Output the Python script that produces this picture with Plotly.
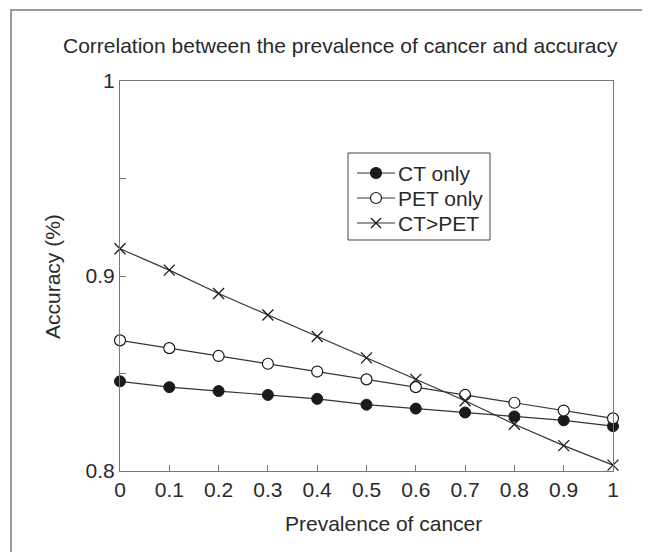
import plotly.graph_objects as go

prevalence = [0, 0.1, 0.2, 0.3, 0.4, 0.5, 0.6, 0.7, 0.8, 0.9, 1.0]
ct_only = [0.846, 0.843, 0.841, 0.839, 0.837, 0.834, 0.832, 0.830, 0.828, 0.826, 0.823]
pet_only = [0.867, 0.863, 0.859, 0.855, 0.851, 0.847, 0.843, 0.839, 0.835, 0.831, 0.827]
ct_pet = [0.914, 0.903, 0.891, 0.880, 0.869, 0.858, 0.847, 0.836, 0.824, 0.813, 0.803]
series_names = ["CT only", "PET only", "CT>PET"]

x_ticks = [0, 0.1, 0.2, 0.3, 0.4, 0.5, 0.6, 0.7, 0.8, 0.9, 1.0]
x_labels = ["0", "0.1", "0.2", "0.3", "0.4", "0.5", "0.6", "0.7", "0.8", "0.9", "1"]
y_ticks = [0.8, 0.85, 0.9, 0.95, 1.0]
y_labels = ["0.8", "", "0.9", "", "1"]

FONT = "Liberation Sans, Arial, Helvetica, sans-serif"
INK = "#2a2a2a"
LINE = "#333333"
MK = "#1a1a1a"

fig = go.Figure()
fig.add_trace(go.Scatter(
    x=prevalence, y=ct_only, name=series_names[0], mode="lines+markers",
    line=dict(color=LINE, width=1.2),
    marker=dict(symbol="circle", size=11, color=MK, line=dict(color=MK, width=1)),
    cliponaxis=False))
fig.add_trace(go.Scatter(
    x=prevalence, y=pet_only, name=series_names[1], mode="lines+markers",
    line=dict(color=LINE, width=1.2),
    marker=dict(symbol="circle", size=11, color="white", line=dict(color=MK, width=1.2)),
    cliponaxis=False))
fig.add_trace(go.Scatter(
    x=prevalence, y=ct_pet, name=series_names[2], mode="lines+markers",
    line=dict(color=LINE, width=1.2),
    marker=dict(symbol="x-thin", size=11, color=MK, line=dict(color=MK, width=1.3)),
    cliponaxis=False))

# page body has an 8px margin, so the figure is drawn 8px in from the top-left
OFF = 8
W, H = 650 - OFF, 552 - OFF
L, R, T, B = 120 - OFF, 37, 81 - OFF, 81
pw, ph = W - L - R, H - T - B

def px(x):
    return (x - OFF - L) / pw

def py(y):
    return (H - B - (y - OFF)) / ph

annotations = [
    dict(text="Correlation between the prevalence of cancer and accuracy",
         xref="paper", yref="paper", x=px(340), y=py(45),
         xanchor="center", yanchor="middle", showarrow=False,
         font=dict(family=FONT, size=21, color=INK)),
    dict(text="Prevalence of cancer",
         xref="paper", yref="paper", x=px(383), y=py(523),
         xanchor="center", yanchor="middle", showarrow=False,
         font=dict(family=FONT, size=21, color=INK)),
    dict(text="Accuracy (%)", textangle=-90,
         xref="paper", yref="paper", x=px(52), y=py(277),
         xanchor="center", yanchor="middle", showarrow=False,
         font=dict(family=FONT, size=21, color=INK)),
]

shapes = [
    dict(type="rect", xref="paper", yref="paper",
         x0=px(11), x1=px(645), y0=py(565), y1=py(10),
         line=dict(color="#999", width=2), fillcolor="rgba(0,0,0,0)", layer="below"),
    # legend box
    dict(type="rect", xref="paper", yref="paper",
         x0=px(348), x1=px(490), y0=py(240), y1=py(153),
         line=dict(color="#444", width=1), fillcolor="white", layer="above"),
]

legend_rows = [173, 198, 223]
line_x0, line_x1, mark_x, text_x = 357, 395, 376, 396
for i, (name, yrow) in enumerate(zip(series_names, legend_rows)):
    shapes.append(dict(type="line", xref="paper", yref="paper",
                       x0=px(line_x0), x1=px(line_x1), y0=py(yrow), y1=py(yrow),
                       line=dict(color=LINE, width=1.2), layer="above"))
    if i < 2:
        shapes.append(dict(type="circle", xref="paper", yref="paper",
                           xsizemode="pixel", ysizemode="pixel",
                           xanchor=px(mark_x), yanchor=py(yrow),
                           x0=-5.5, x1=5.5, y0=-5.5, y1=5.5,
                           line=dict(color=MK, width=1.2),
                           fillcolor=MK if i == 0 else "white", layer="above"))
    else:
        for a, b in [(-5, 5), (5, -5)]:
            shapes.append(dict(type="line", xref="paper", yref="paper",
                               xsizemode="pixel", ysizemode="pixel",
                               xanchor=px(mark_x), yanchor=py(yrow),
                               x0=-5, x1=5, y0=a, y1=b,
                               line=dict(color=MK, width=1.3), layer="above"))
    annotations.append(dict(text=name, xref="paper", yref="paper",
                            x=px(text_x), y=py(yrow), xanchor="left", yanchor="middle",
                            showarrow=False, font=dict(family=FONT, size=21, color=INK)))

fig.update_layout(
    width=W, height=H,
    margin=dict(l=L, r=R, t=T, b=B),
    paper_bgcolor="white", plot_bgcolor="white",
    font=dict(family=FONT, size=21, color=INK),
    showlegend=False,
    xaxis=dict(
        range=[0, 1], tickvals=x_ticks, ticktext=x_labels,
        ticks="inside", ticklen=6, tickcolor="#777", tickwidth=1,
        showline=True, linecolor="#777", linewidth=1.2, mirror=True,
        showgrid=False, zeroline=False,
        tickfont=dict(family=FONT, size=21, color=INK),
    ),
    yaxis=dict(
        range=[0.8, 1], tickvals=y_ticks, ticktext=y_labels,
        ticks="inside", ticklen=6, tickcolor="#777", tickwidth=1,
        showline=True, linecolor="#777", linewidth=1.2, mirror=True,
        showgrid=False, zeroline=False,
        tickfont=dict(family=FONT, size=21, color=INK),
    ),
    annotations=annotations,
    shapes=shapes,
)

fig.write_html("out.html")
